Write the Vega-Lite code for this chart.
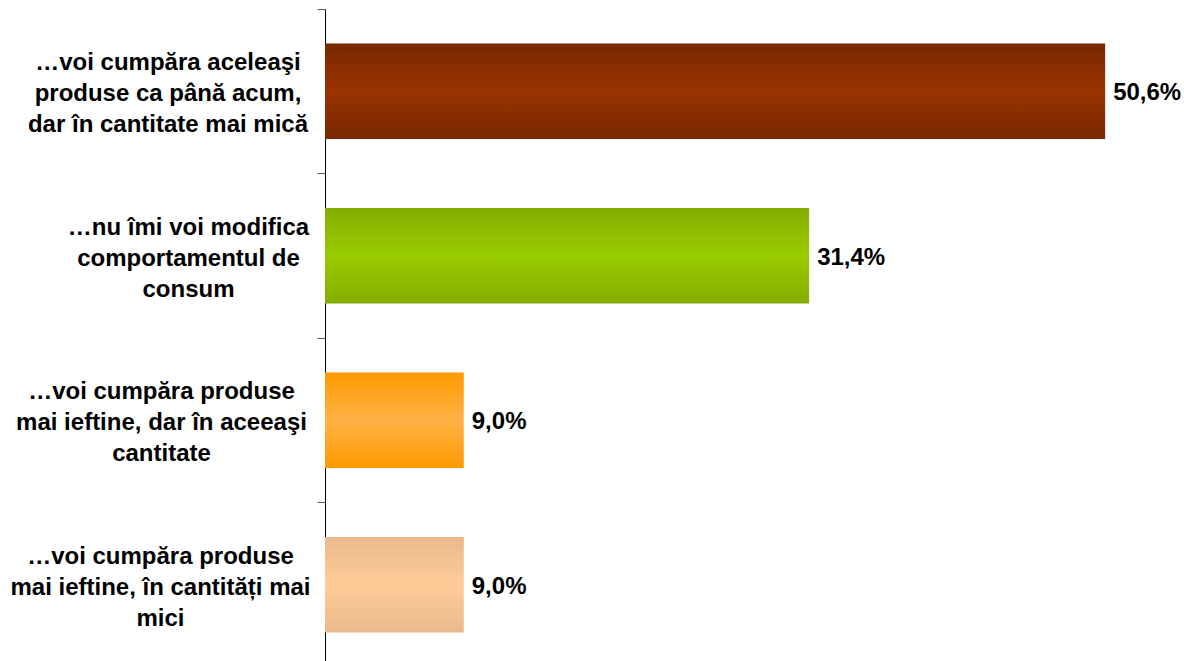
{
  "$schema": "https://vega.github.io/schema/vega-lite/v6.json",
  "width": 848,
  "height": 658,
  "autosize": "none",
  "padding": {"left": 325, "top": 9, "right": 11, "bottom": 0},
  "background": "white",
  "config": {"view": {"stroke": null}},
  "datasets": {
    "answers": [
      {"answer": "…voi cumpăra aceleaşi|produse ca până acum,|dar în cantitate mai mică", "share": 50.6},
      {"answer": "…nu îmi voi modifica|comportamentul de|consum", "share": 31.4},
      {"answer": "…voi cumpăra produse|mai ieftine, dar în aceeaşi|cantitate", "share": 9.0},
      {"answer": "…voi cumpăra produse|mai ieftine, în cantități mai|mici", "share": 9.0}
    ]
  },
  "data": {"name": "answers"},
  "transform": [
    {"calculate": "replace(format(datum.share, '.1f'), '.', ',') + '%'", "as": "shareLabel"}
  ],
  "encoding": {
    "y": {
      "field": "answer",
      "type": "nominal",
      "sort": null,
      "title": null,
      "scale": {"paddingInner": 0, "paddingOuter": 0},
      "axis": {
        "bandPosition": 0,
        "domainColor": "black",
        "domainWidth": 1,
        "tickColor": "#555555",
        "tickSize": 8,
        "tickWidth": 1,
        "labelPadding": {
          "condition": [
            {"test": "indexof(datum.value, 'modifica') >= 0", "value": 129},
            {"test": "indexof(datum.value, 'aceea') >= 0", "value": 156},
            {"test": "indexof(datum.value, 'mici') >= 0", "value": 157}
          ],
          "value": 149.5
        },
        "labelOffset": -28,
        "labelAlign": "center",
        "labelBaseline": "middle",
        "labelFont": "Liberation Sans",
        "labelFontSize": 24,
        "labelFontWeight": "bold",
        "labelColor": "black",
        "labelLineHeight": 31,
        "labelLimit": 0,
        "labelExpr": "split(datum.label, '|')"
      }
    },
    "x": {
      "field": "share",
      "type": "quantitative",
      "scale": {"domain": [0, 55], "nice": false, "zero": true},
      "axis": null
    }
  },
  "layer": [
    {
      "transform": [{"filter": "datum.share > 50"}],
      "mark": {
        "type": "bar",
        "height": {"band": 0.58},
        "color": {
          "gradient": "linear", "x1": 0, "y1": 0, "x2": 0, "y2": 1,
          "stops": [
            {"offset": 0, "color": "#782800"},
            {"offset": 0.5, "color": "#993300"},
            {"offset": 1, "color": "#782800"}
          ]
        }
      }
    },
    {
      "transform": [{"filter": "indexof(datum.answer, 'modifica') >= 0"}],
      "mark": {
        "type": "bar",
        "height": {"band": 0.58},
        "color": {
          "gradient": "linear", "x1": 0, "y1": 0, "x2": 0, "y2": 1,
          "stops": [
            {"offset": 0, "color": "#84ad00"},
            {"offset": 0.5, "color": "#99cc00"},
            {"offset": 1, "color": "#84ad00"}
          ]
        }
      }
    },
    {
      "transform": [{"filter": "indexof(datum.answer, 'aceea') >= 0"}],
      "mark": {
        "type": "bar",
        "height": {"band": 0.58},
        "color": {
          "gradient": "linear", "x1": 0, "y1": 0, "x2": 0, "y2": 1,
          "stops": [
            {"offset": 0, "color": "#ff9900"},
            {"offset": 0.5, "color": "#ffb347"},
            {"offset": 1, "color": "#ff9900"}
          ]
        }
      }
    },
    {
      "transform": [{"filter": "indexof(datum.answer, 'mici') >= 0"}],
      "mark": {
        "type": "bar",
        "height": {"band": 0.58},
        "color": {
          "gradient": "linear", "x1": 0, "y1": 0, "x2": 0, "y2": 1,
          "stops": [
            {"offset": 0, "color": "#e9b98c"},
            {"offset": 0.5, "color": "#ffcc99"},
            {"offset": 1, "color": "#e9b98c"}
          ]
        }
      }
    },
    {
      "mark": {
        "type": "text",
        "align": "left",
        "baseline": "middle",
        "dx": 8,
        "dy": 2,
        "font": "Liberation Sans",
        "fontSize": 24,
        "fontWeight": "bold",
        "color": "black"
      },
      "encoding": {
        "text": {"field": "shareLabel"}
      }
    }
  ]
}
